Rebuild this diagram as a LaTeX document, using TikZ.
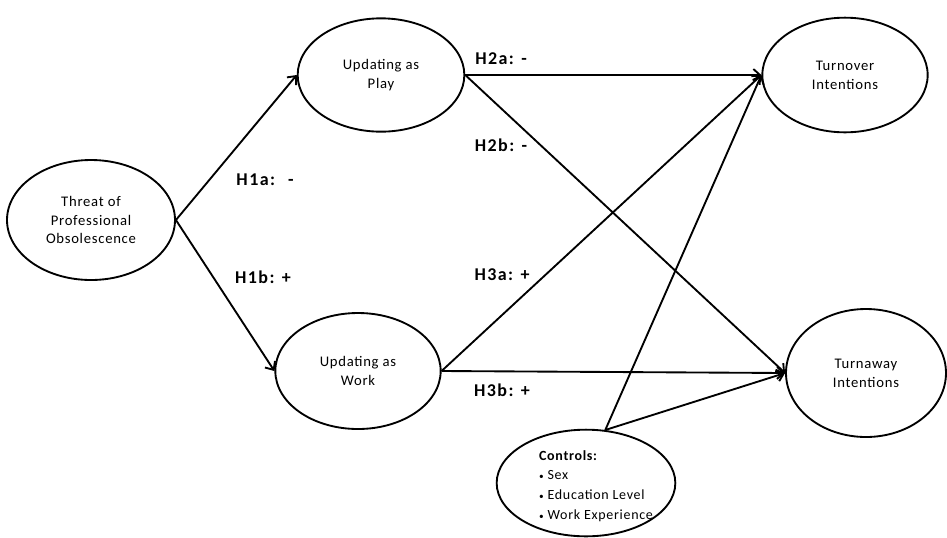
\documentclass[tikz,border=0pt]{standalone}
\usepackage{fontspec}
\setmainfont{Carlito}
\usetikzlibrary{arrows.meta,shapes.geometric}

\begin{document}
\begin{tikzpicture}[x=0.75pt,y=-0.75pt,
  construct/.style={draw,ellipse,line width=1.4pt,inner sep=0pt,align=center,
    font=\fontsize{11}{14.2}\selectfont\addfontfeature{LetterSpace=5}},
  link/.style={line width=1.4pt,-{Straight Barb[length=5pt,width=9pt,line width=1.4pt]}},
  hyp/.style={font=\fontsize{13.5}{15}\selectfont\bfseries\addfontfeature{LetterSpace=8}}]
  \useasboundingbox (0,0) rectangle (947,537);
  % constructs
  \node[construct,minimum width=126pt,minimum height=90pt] (threat) at (91,220) {Threat of\\Professional\\Obsolescence};
  \node[construct,minimum width=125pt,minimum height=85pt] (play) at (381,75) {Updating as\\Play};
  \node[construct,minimum width=124pt,minimum height=87pt] (work) at (358,371) {Updating as\\Work};
  \node[construct,minimum width=124pt,minimum height=86pt] (turnover) at (845,75) {Turnover\\Intentions};
  \node[construct,minimum width=120pt,minimum height=96pt] (turnaway) at (866,373) {Turnaway\\Intentions};
  \node[construct,minimum width=134pt,minimum height=80pt] (controls) at (586,483) {};
  \node[align=left,font=\fontsize{10.5}{14.8}\selectfont\addfontfeature{LetterSpace=5}] (ctrllist) at (596,486)
    {\textbf{Controls:}\\{\scriptsize\textbullet} Sex\\{\scriptsize\textbullet} Education Level\\{\scriptsize\textbullet} Work Experience};
  % paths
  \draw[link] (threat.east) -- (play.west);
  \draw[link] (threat.east) -- (work.west);
  \draw[link] (play.east) -- (turnover.west);
  \draw[link] (play.east) -- (turnaway.west);
  \draw[link] (work.east) -- (turnover.west);
  \draw[link] (work.east) -- (turnaway.west);
  \draw[link] (controls.70) -- (turnover.west);
  \draw[link] (controls.70) -- (turnaway.west);
  % hypotheses
  \node[hyp] (h1a) at (265,180) {H1a:~ -};
  \node[hyp] (h1b) at (263,277) {H1b: +};
  \node[hyp] (h2a) at (501,59) {H2a: -};
  \node[hyp] (h2b) at (501,145) {H2b: -};
  \node[hyp] (h3a) at (502,275) {H3a: +};
  \node[hyp] (h3b) at (502,390) {H3b: +};
\end{tikzpicture}
\end{document}
